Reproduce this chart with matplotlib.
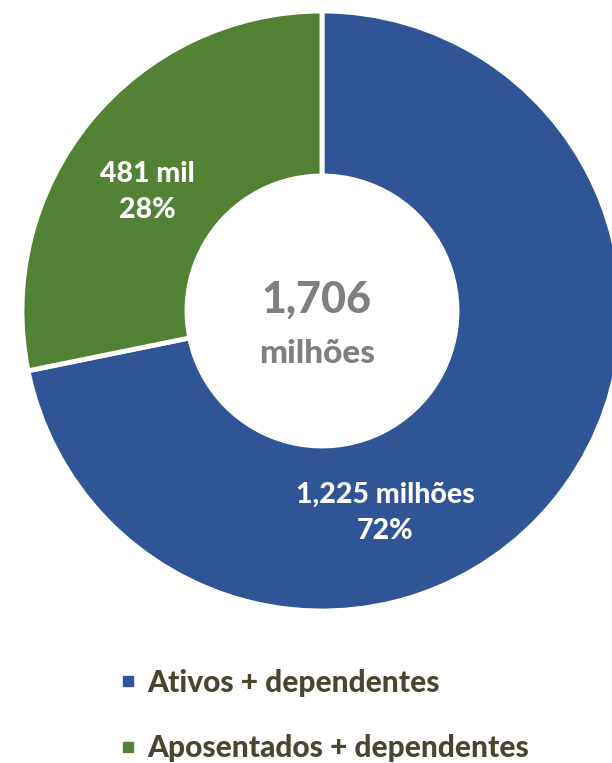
import matplotlib.pyplot as plt
from matplotlib.lines import Line2D

labels = ["Ativos + dependentes", "Aposentados + dependentes"]
values = [1.225, 0.481]
shares = ["72%", "28%"]
amounts = ["1,225 milhões", "481 mil"]
colors = ["#2F5597", "#548235"]
total_txt = "1,706"
total_unit = "milhões"

plt.rcParams['font.family'] = ['Lato', 'DejaVu Sans']

fig = plt.figure(figsize=(6.12, 7.63), dpi=100)
ax = fig.add_axes([0, 0, 1, 1])

wedges, _ = ax.pie(values, colors=colors, startangle=90, counterclock=False,
                   radius=1.0, wedgeprops=dict(width=0.55, edgecolor='white', linewidth=3.5))

# pixel geometry: centre (322, 311 from top), radius 300 px
cx, cy, R = 322, 311, 300
def px(x, y):
    return (x - cx) / R, (cy - y) / R

ax.set_xlim(-cx / R, (612 - cx) / R)
ax.set_ylim(-(763 - cy) / R, cy / R)
ax.set_aspect('equal')
ax.axis('off')

# slice labels
ax.text(*px(385, 513), amounts[0] + "\n" + shares[0],
        ha='center', va='center', color='white', fontsize=20.5, fontweight='black', linespacing=1.45)
ax.text(*px(147, 192), amounts[1] + "\n" + shares[1],
        ha='center', va='center', color='white', fontsize=20.5, fontweight='black', linespacing=1.45)

# centre text
ax.text(*px(316, 300), total_txt, ha='center', va='center',
        color='#7F7F7F', fontsize=31, fontweight='black')
ax.text(*px(317, 353), total_unit, ha='center', va='center',
        color='#7F7F7F', fontsize=24, fontweight='black')

handles = [Line2D([0], [0], marker='s', linestyle='none', markersize=7.5,
                  markerfacecolor=c, markeredgecolor=c) for c in colors]
fig.legend(handles, labels, loc='upper left', bbox_to_anchor=(91 / 612, 1 - 642 / 763),
           frameon=False, labelspacing=1.25, handletextpad=0.3,
           handlelength=0.7, labelcolor='#4A4530', prop=dict(weight='black', size=21.5))

fig.savefig("out.png", dpi=100)
